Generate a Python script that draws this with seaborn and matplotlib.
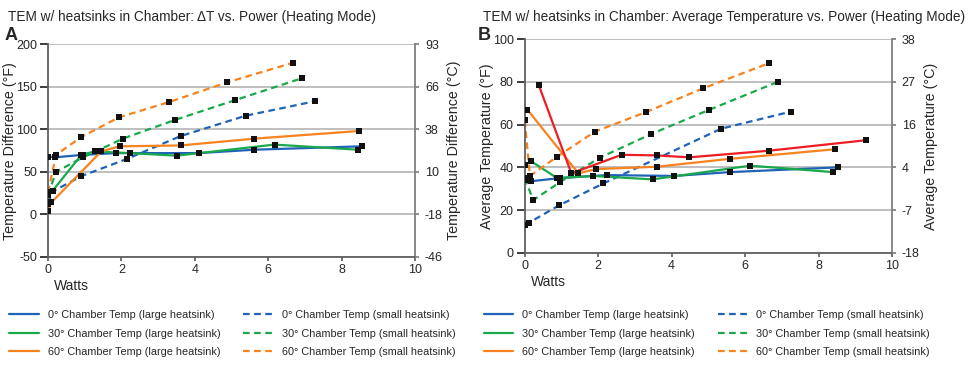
import numpy as np
import pandas as pd
import seaborn as sns
import matplotlib.pyplot as plt
from matplotlib.lines import Line2D

# ---- panel A: delta T (F) vs watts ----
a_0L_x = [0, 0.18, 0.95, 1.86, 4.1, 5.62, 8.56]
a_0L_y = [68, 67, 70, 72, 72, 76, 80]
a_30L_x = [0, 0.13, 0.91, 1.27, 2.23, 3.5, 6.17, 8.44]
a_30L_y = [23, 28, 70, 74, 72, 69, 82, 76]
a_60L_x = [0, 0.09, 1.45, 1.95, 3.61, 5.62, 8.48]
a_60L_y = [4, 14, 74, 80, 81, 89, 98]
a_0S_x = [0, 0.13, 0.91, 2.14, 3.61, 5.39, 7.28]
a_0S_y = [12, 27, 45, 65, 92, 116, 133]
a_30S_x = [0, 0.22, 0.95, 2.04, 3.46, 5.08, 6.92]
a_30S_y = [23, 50, 67, 89, 111, 134, 160]
a_60S_x = [0, 0.22, 0.91, 1.93, 3.30, 4.87, 6.66]
a_60S_y = [26, 70, 91, 114, 132, 155, 178]

# ---- panel B: average temperature (F) vs watts ----
b_0L_x = [0, 0.16, 0.95, 2.23, 4.07, 5.59, 8.52]
b_0L_y = [34, 33.5, 35, 36.4, 36, 37.8, 40]
b_30L_x = [0, 0.16, 0.88, 1.86, 3.48, 6.14, 8.39]
b_30L_y = [41, 43, 35, 36, 34.4, 40.8, 37.8]
b_60L_x = [0.07, 1.46, 1.93, 3.59, 5.59, 8.46]
b_60L_y = [67, 37.2, 39.2, 40.3, 44, 48.5]
b_90L_x = [0.38, 1.27, 2.64, 3.59, 4.48, 6.65, 9.29]
b_90L_y = [78.5, 37.2, 45.9, 45.6, 44.7, 47.8, 52.7]
b_0S_x = [0, 0.12, 0.93, 2.14, 5.35, 7.25]
b_0S_y = [13, 14.2, 22.2, 32.5, 58.1, 66.1]
b_30S_x = [0, 0.23, 0.95, 2.04, 3.43, 5.02, 6.89]
b_30S_y = [35, 24.7, 33, 44.5, 55.5, 66.9, 80]
b_60S_x = [0, 0.14, 0.88, 1.91, 3.29, 4.85, 6.66]
b_60S_y = [62, 36, 45, 56.7, 65.8, 76.9, 88.8]

chambers = ["0°", "30°", "60°", "90°"]
colors = {"0°": "#1f63b8", "30°": "#19a94b", "60°": "#f7821e", "90°": "#ee1d23"}


def make_df(series):
    rows = []
    for (cham, sink), (xs, ys) in series.items():
        for x, y in zip(xs, ys):
            rows.append({"Watts": x, "T": y, "chamber": cham, "sink": sink})
    return pd.DataFrame(rows)


dfA = make_df({
    ("0°", "large"): (a_0L_x, a_0L_y), ("30°", "large"): (a_30L_x, a_30L_y),
    ("60°", "large"): (a_60L_x, a_60L_y), ("0°", "small"): (a_0S_x, a_0S_y),
    ("30°", "small"): (a_30S_x, a_30S_y), ("60°", "small"): (a_60S_x, a_60S_y),
})
dfB = make_df({
    ("0°", "large"): (b_0L_x, b_0L_y), ("30°", "large"): (b_30L_x, b_30L_y),
    ("60°", "large"): (b_60L_x, b_60L_y), ("90°", "large"): (b_90L_x, b_90L_y),
    ("0°", "small"): (b_0S_x, b_0S_y), ("30°", "small"): (b_30S_x, b_30S_y),
    ("60°", "small"): (b_60S_x, b_60S_y),
})

sns.set_theme(style="white")
plt.rcParams["font.family"] = ["Liberation Sans", "DejaVu Sans"]
plt.rcParams["axes.unicode_minus"] = False

fig = plt.figure(figsize=(9.7, 3.65), dpi=100)
axA = fig.add_axes([0.0495, 0.296, 0.3785, 0.583])
axB = fig.add_axes([0.541, 0.307, 0.3786, 0.586])


def draw(ax, df, yticks, ylabel, ylabel2):
    sns.lineplot(data=df, x="Watts", y="T", hue="chamber", style="sink",
                 palette=colors, dashes={"large": "", "small": (3, 2)},
                 sort=False, estimator=None, lw=1.6, legend=False, ax=ax)
    sns.scatterplot(data=df, x="Watts", y="T", color="#111111", marker="s",
                    s=18, linewidth=0, zorder=5, ax=ax)
    ax.set_xlim(0, 10)
    ax.set_ylim(yticks[0], yticks[-1])
    ax.set_xticks([0, 2, 4, 6, 8, 10])
    ax.set_yticks(yticks)
    ax.yaxis.grid(True, color="#b4b4b4", lw=1.2)
    ax.set_axisbelow(True)
    ax.spines["top"].set_visible(False)
    ax.spines["left"].set_color("#606060")
    ax.spines["bottom"].set_color("#606060")
    ax.spines["right"].set_color("#808080")
    for s in ax.spines.values():
        s.set_linewidth(1.3)
    ax.tick_params(axis="x", bottom=True, length=3, color="#606060", labelsize=9, pad=2)
    ax.tick_params(axis="y", left=False, labelsize=9, pad=2)
    ax.set_ylabel(ylabel, fontsize=10.3, labelpad=-1)
    ax.set_xlabel("Watts", fontsize=10)
    ax.xaxis.set_label_coords(0.065, -0.105)
    ax2 = ax.twinx()
    f2c = lambda f: (f - 32) * 5 / 9
    ax2.set_ylim(f2c(yticks[0]), f2c(yticks[-1]))
    ax2.set_yticks([f2c(t) for t in yticks])
    ax2.set_yticklabels([str(int(round(f2c(t)))) for t in yticks])
    ax2.tick_params(axis="y", right=True, length=3, color="#808080", labelsize=9, pad=4)
    for s in ax2.spines.values():
        s.set_visible(False)
    ax2.set_ylabel(ylabel2, fontsize=10.3, labelpad=3)
    ax2.grid(False)


draw(axA, dfA, [-50, 0, 50, 100, 150, 200],
     "Temperature Difference (°F)", "Temperature Difference (°C)")
draw(axB, dfB, [0, 20, 40, 60, 80, 100],
     "Average Temperature (°F)", "Average Temperature (°C)")

fig.text(0.008, 0.953, "TEM w/ heatsinks in Chamber: \u0394T vs. Power (Heating Mode)",
         fontsize=9.8, va="center", ha="left")
fig.text(0.498, 0.953, "TEM w/ heatsinks in Chamber: Average Temperature vs. Power (Heating Mode)",
         fontsize=9.8, va="center", ha="left")
fig.text(0.005, 0.904, "A", fontsize=13, fontweight="bold", va="center")
fig.text(0.493, 0.904, "B", fontsize=13, fontweight="bold", va="center")

handles = []
labels = []
for sink, ls in [("large", "-"), ("small", (0, (3, 2)))]:
    for c in chambers[:3]:
        handles.append(Line2D([], [], color=colors[c], lw=1.6, linestyle=ls))
        labels.append(f"{c} Chamber Temp ({sink} heatsink)")

for x0 in [0.003, 0.492]:
    fig.legend(handles, labels, ncol=2, loc="upper left", bbox_to_anchor=(x0, 0.168),
               frameon=False, fontsize=7.8, handlelength=2.7, handletextpad=0.85,
               columnspacing=2.1, labelspacing=0.78, borderaxespad=0.2)

fig.savefig("out.png", dpi=100)
